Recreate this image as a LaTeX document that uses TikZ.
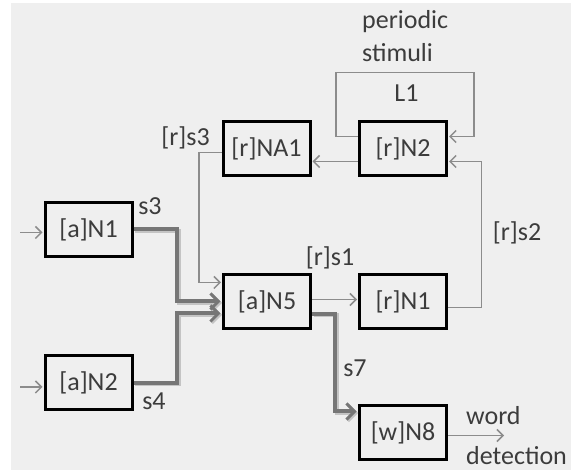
\documentclass[tikz,border=0pt]{standalone}
\usepackage{fontspec}
\setmainfont{Carlito}
\usetikzlibrary{arrows.meta,calc}
\definecolor{panelbg}{HTML}{EFEFEF}
\definecolor{ink}{HTML}{3C3C3C}
\definecolor{wiregray}{HTML}{8C8C8C}
\definecolor{busgray}{HTML}{767676}
\definecolor{busshade}{HTML}{C4C4C4}

\begin{document}
\begin{tikzpicture}[x=1pt,y=-1pt,
  neuron/.style={draw=black, line width=3pt, minimum width=87pt, minimum height=54pt,
    inner sep=0pt, text=ink, font=\fontsize{26}{30}\selectfont},
  lbl/.style={text=ink, font=\fontsize{26}{30}\selectfont, inner sep=0pt},
  wire/.style={draw=wiregray, line width=1.5pt, shorten >=1pt,
    -{Straight Barb[length=6pt,width=12pt,line width=1.5pt]}},
  bus/.style={draw=busgray, line width=4pt, shorten >=1.5pt,
    -{Straight Barb[length=8pt,width=16pt,line width=3pt]}},
  busshadow/.style={bus, draw=busshade, transform canvas={shift={(1.5pt,-1.5pt)}}}
]
% canvas and panel
\useasboundingbox (0,0) rectangle (571,470);
\fill[white] (0,0) rectangle (571,470);
\fill[panelbg] (11,3) rectangle (571,470);

% neurons
\node[neuron] (aN1) at (88.5,229.5) {[a]N1};
\node[neuron] (aN2) at (88.5,383) {[a]N2};
\node[neuron] (aN5) at (267,301.5) {[a]N5};
\node[neuron] (rN1) at (403,301.5) {[r]N1};
\node[neuron] (NA1) at (266.5,148.5) {[r]NA1};
\node[neuron] (rN2) at (403,148.5) {[r]N2};
\node[neuron] (wN8) at (403,432.5) {[w]N8};

% helper points for the routed wires
\coordinate (inA) at (20,232.5);
\coordinate (inB) at (20,387);
\coordinate (jL) at (177,0);
\coordinate (jM) at (199,0);
\coordinate (jR) at (481.5,0);
\coordinate (jS) at (335,0);
\coordinate (loopL) at (336,72.7);
\coordinate (loopR) at (474,72.7);
\coordinate (out) at (505,0);

% external inputs
\draw[wire] (inA) -- (aN1.west |- inA);
\draw[wire] (inB) -- (aN2.west |- inB);

% thick pathways into and out of [a]N5 (soft shadow first, then the line)
\foreach \sty in {busshadow,bus}{
  \draw[\sty] (aN1.east) -- (aN1.east -| jL) |- (aN5.west);
  \draw[\sty] (aN2.east) -- (aN2.east -| jL) |- ([yshift=-12pt]aN5.west);
  \draw[\sty] ([yshift=-12.5pt]aN5.east) -- ([yshift=-12.5pt]aN5.east -| jS) |- ([yshift=21pt]wN8.west);
}

% thin connections
\draw[wire] ([yshift=-4pt]NA1.west) -- ([yshift=-4pt]NA1.west -| jM) |- ([yshift=19pt]aN5.west);
\draw[wire] ([yshift=-13pt]rN2.west) -- ([yshift=-13pt]rN2.west -| NA1.east);
\draw[wire] ([yshift=12pt]rN2.west) -| (loopL) -- (loopR) |- ([yshift=12pt]rN2.east);
\draw[wire] ([yshift=-6pt]rN1.east) -- ([yshift=-6pt]rN1.east -| jR) |- ([yshift=-13pt]rN2.east);
\draw[wire] ([yshift=2pt]aN5.east) -- ([yshift=2pt]aN5.east -| rN1.west);
\draw[wire] ([yshift=-3pt]wN8.east) -- ([yshift=-3pt]wN8.east -| out);

% labels
\node[lbl, anchor=base] (ls3) at (150,215) {s3};
\node[lbl, anchor=base] (ls4) at (154,410) {s4};
\node[lbl, anchor=base] (lrs3) at (185.5,146) {[r]s3};
\node[lbl, anchor=base] (lrs1) at (330,266) {[r]s1};
\node[lbl, anchor=base] (lrs2) at (517,241) {[r]s2};
\node[lbl, anchor=base] (ls7) at (355,377) {s7};
\node[lbl, anchor=base] (lL1) at (406.5,102) {L1};
\node[lbl, anchor=base west] (lper) at (362,29) {periodic};
\node[lbl, anchor=base west] (lsti) at (362,62) {stimuli};
\node[lbl, anchor=base west] (lword) at (466,425) {word};
\node[lbl, anchor=base west] (ldet) at (466,465) {detection};
\end{tikzpicture}
\end{document}
